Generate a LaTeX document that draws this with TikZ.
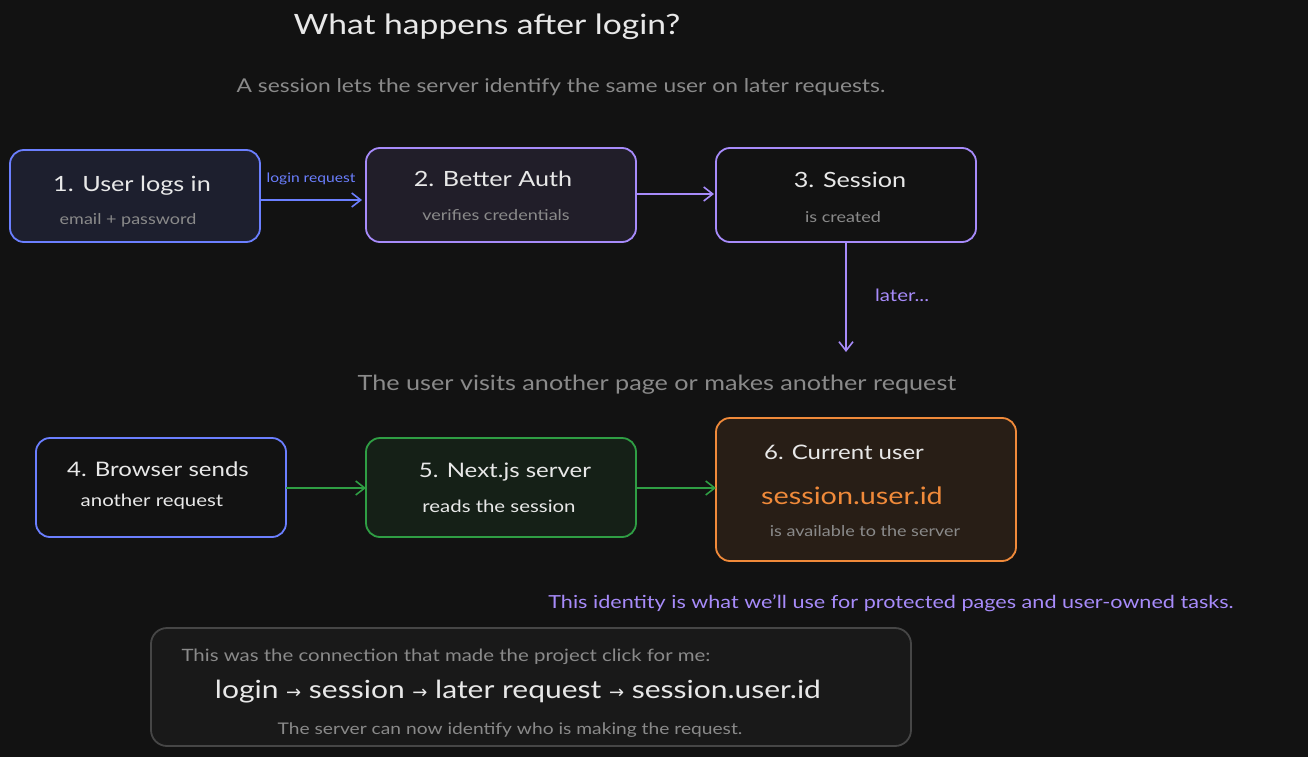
\documentclass[tikz,border=0pt]{standalone}
\usepackage{fontspec}
\setmainfont{Lato}[FakeStretch=1.2]
\newfontfamily\dv{DejaVu Sans}
\usetikzlibrary{arrows.meta}
\definecolor{bg}{HTML}{121212}
\definecolor{tw}{HTML}{E8E8E8}
\definecolor{tg}{HTML}{8A8A8A}
\definecolor{cb}{HTML}{6B7FFF}
\definecolor{cp}{HTML}{A78BFA}
\definecolor{cg}{HTML}{2F9E44}
\definecolor{co}{HTML}{F08A3A}
\newcommand{\fs}[1]{\fontsize{#1}{#1}\selectfont}
\newcommand{\ar}{{\dv\fs{18}→}}
\begin{document}
\begin{tikzpicture}[x=1pt,y=-1pt,
 box/.style={draw,line width=1.8pt,rounded corners=14pt},
 big/.style={text=tw,font=\fs{21}},
 small/.style={text=tg,font=\fs{15}},
 arr/.style={line width=1.6pt,-{Straight Barb[length=9pt,width=14pt]}}]
\fill[bg] (0,0) rectangle (1308,757);
\useasboundingbox (0,0) rectangle (1308,757);
\node[text=tw,font=\fs{28}] (title) at (487,27) {What happens after login?};
\node[text=tg,font=\fs{19}] (sub) at (561,87) {A session lets the server identify the same user on later requests.};
\node[box,draw=cb,fill=cb!12!bg,minimum width=250pt,minimum height=92pt] (b1) at (135,196) {};
\node[big] (t1) at (132,186) {1. User logs in};
\node[small] (s1) at (128,220) {email + password};
\node[box,draw=cp,fill=cp!10!bg,minimum width=270pt,minimum height=94pt] (b2) at (501,195) {};
\node[big] (t2) at (493,179) {2. Better Auth};
\node[small] (s2) at (496,215) {verifies credentials};
\node[box,draw=cp,fill=bg,minimum width=260pt,minimum height=94pt] (b3) at (846,195) {};
\node[big] (t3) at (850,180) {3. Session};
\node[small] (s3) at (843,217) {is created};
\draw[arr,cb] (260,200) -- (362,200) node[midway,above=11pt,font=\fs{13}] (l1) {login request};
\draw[arr,cp] (b2.east|-0,194) -- (714,194);
\draw[arr,cp] (b3.south) -- (846,352) node[pos=0.48,right=25pt,font=\fs{17}] (l2) {later...};
\node[text=tg,font=\fs{21}] (mid) at (657,385) {The user visits another page or makes another request};
\node[box,draw=cb,fill=bg,minimum width=250pt,minimum height=99pt] (b4) at (161,487.5) {};
\node[big,font=\fs{20}] (t4) at (158,469) {4. Browser sends};
\node[text=tw,font=\fs{17}] (s4) at (152,502) {another request};
\node[box,draw=cg,fill=cg!10!bg,minimum width=270pt,minimum height=99pt] (b5) at (501,487.5) {};
\node[big,font=\fs{20}] (t5) at (505,472) {5. Next.js server};
\node[text=tw,font=\fs{17}] (s5) at (499,506) {reads the session};
\node[box,draw=co,fill=co!10!bg,minimum width=300pt,minimum height=143pt] (b6) at (866,489.5) {};
\node[big,font=\fs{20}] (t6) at (844,452) {6. Current user};
\node[text=co,font=\fs{24}] (s6a) at (852,496) {session.user.id};
\node[small] (s6) at (865,531) {is available to the server};
\draw[arr,cg] (286,488) -- (366,488);
\draw[arr,cg] (636,488) -- (716,488);
\node[text=cp,font=\fs{18}] (note) at (891,603) {This identity is what we’ll use for protected pages and user-owned tasks.};
\node[draw=white!22!bg,line width=1.8pt,rounded corners=16pt,fill=white!3!bg,minimum width=760pt,minimum height=118pt] (b7) at (531,687) {};
\node[small,font=\fs{17}] (q1) at (446,657) {This was the connection that made the project click for me:};
\node[text=tw,font=\fs{25}] (q2) at (518,692) {login \ar{} session \ar{} later request \ar{} session.user.id};
\node[small,font=\fs{16}] (q3) at (510,730) {The server can now identify who is making the request.};
\end{tikzpicture}
\end{document}
